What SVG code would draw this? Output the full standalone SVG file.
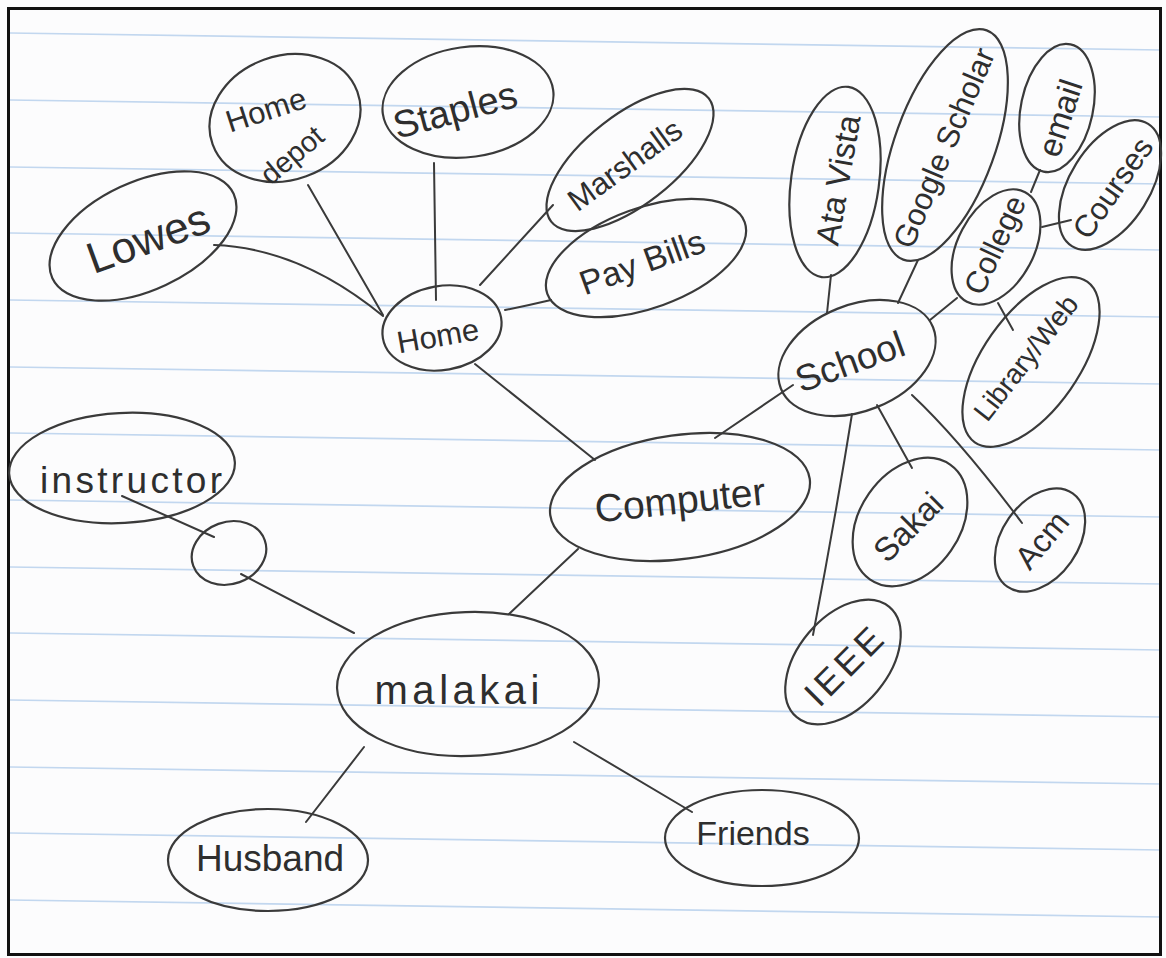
<svg xmlns="http://www.w3.org/2000/svg" width="1166" height="958" viewBox="0 0 1166 958">
<style>
.rule{stroke:#c2d7ef;stroke-width:1.6;fill:none}
.node ellipse{fill:none;stroke:#3a3a3a;stroke-width:2.2}
.conn{fill:none;stroke:#3a3a3a;stroke-width:2;stroke-linecap:round}
text{font-family:"Liberation Sans","DejaVu Sans",sans-serif;fill:#2e2e2e;text-anchor:middle;dominant-baseline:central}
</style>
<rect x="0" y="0" width="1166" height="958" fill="#fcfcfd"/>
<g id="ruled-lines">
<line class="rule" x1="10" y1="33" x2="1162" y2="50"/>
<line class="rule" x1="10" y1="100" x2="1162" y2="117"/>
<line class="rule" x1="10" y1="167" x2="1162" y2="184"/>
<line class="rule" x1="10" y1="233" x2="1162" y2="250"/>
<line class="rule" x1="10" y1="300" x2="1162" y2="317"/>
<line class="rule" x1="10" y1="367" x2="1162" y2="384"/>
<line class="rule" x1="10" y1="433" x2="1162" y2="450"/>
<line class="rule" x1="10" y1="500" x2="1162" y2="517"/>
<line class="rule" x1="10" y1="567" x2="1162" y2="584"/>
<line class="rule" x1="10" y1="633" x2="1162" y2="650"/>
<line class="rule" x1="10" y1="700" x2="1162" y2="717"/>
<line class="rule" x1="10" y1="767" x2="1162" y2="784"/>
<line class="rule" x1="10" y1="833" x2="1162" y2="850"/>
<line class="rule" x1="10" y1="900" x2="1162" y2="917"/>
</g>
<rect x="8.5" y="8.5" width="1152" height="946" fill="none" stroke="#111" stroke-width="3"/>
<g id="connectors">
<path class="conn" d="M214,245 Q300,248 383,316"/>
<path class="conn" d="M308,185 L383,315"/>
<path class="conn" d="M434,163 L436,300"/>
<path class="conn" d="M553,205 L480,285"/>
<path class="conn" d="M505,310 Q530,305 551,300"/>
<path class="conn" d="M475,364 L595,460"/>
<path class="conn" d="M578,549 L509,614"/>
<path class="conn" d="M715,438 L793,385"/>
<path class="conn" d="M831,275 L827,313"/>
<path class="conn" d="M918,260 L898,303"/>
<path class="conn" d="M930,320 L957,298"/>
<path class="conn" d="M1040,170 L1031,192"/>
<path class="conn" d="M1042,227 L1071,220"/>
<path class="conn" d="M998,303 L1013,330"/>
<path class="conn" d="M877,405 L912,468"/>
<path class="conn" d="M912,395 Q960,440 1022,523"/>
<path class="conn" d="M852,414 Q835,520 813,635"/>
<path class="conn" d="M122,496 L214,537"/>
<path class="conn" d="M241,574 L354,633"/>
<path class="conn" d="M364,747 L306,822"/>
<path class="conn" d="M574,742 L692,812"/>
</g>
<g id="node-lowes" class="node"><ellipse cx="143" cy="236" rx="100" ry="54" transform="rotate(-25 143 236)"/><text x="148" y="238" font-size="44" transform="rotate(-20 148 238)">Lowes</text></g>
<g id="node-homedepot" class="node"><ellipse cx="285" cy="118" rx="77" ry="62" transform="rotate(-20 285 118)"/><text x="266" y="110" font-size="31" transform="rotate(-18 266 110)">Home</text><text x="292" y="155" font-size="29" transform="rotate(-40 292 155)">depot</text></g>
<g id="node-staples" class="node"><ellipse cx="468" cy="102" rx="86" ry="55" transform="rotate(-8 468 102)"/><text x="455" y="110" font-size="38" transform="rotate(-15 455 110)">Staples</text></g>
<g id="node-home" class="node"><ellipse cx="442" cy="328" rx="60" ry="42" transform="rotate(-10 442 328)"/><text x="438" y="336" font-size="31" transform="rotate(-10 438 336)">Home</text></g>
<g id="node-marshalls" class="node"><ellipse cx="630" cy="160" rx="100" ry="45" transform="rotate(-38 630 160)"/><text x="625" y="165" font-size="31" transform="rotate(-36 625 165)">Marshalls</text></g>
<g id="node-paybills" class="node"><ellipse cx="646" cy="258" rx="105" ry="50" transform="rotate(-20 646 258)"/><text x="642" y="262" font-size="34" transform="rotate(-20 642 262)">Pay Bills</text></g>
<g id="node-computer" class="node"><ellipse cx="680" cy="497" rx="131" ry="62" transform="rotate(-8 680 497)"/><text x="680" y="500" font-size="39" transform="rotate(-6 680 500)">Computer</text></g>
<g id="node-school" class="node"><ellipse cx="857" cy="358" rx="82" ry="53" transform="rotate(-22 857 358)"/><text x="850" y="362" font-size="37" transform="rotate(-20 850 362)">School</text></g>
<g id="node-altavista" class="node"><ellipse cx="835" cy="182" rx="96" ry="44" transform="rotate(-82 835 182)"/><text x="838" y="180" font-size="33" transform="rotate(-80 838 180)">Ata Vista</text></g>
<g id="node-googlescholar" class="node"><ellipse cx="945" cy="145" rx="122" ry="50" transform="rotate(-70 945 145)"/><text x="944" y="148" font-size="31" transform="rotate(-67 944 148)">Google Scholar</text></g>
<g id="node-email" class="node"><ellipse cx="1057" cy="108" rx="65" ry="36" transform="rotate(-78 1057 108)"/><text x="1060" y="118" font-size="33" transform="rotate(-72 1060 118)">email</text></g>
<g id="node-courses" class="node"><ellipse cx="1110" cy="185" rx="72" ry="40" transform="rotate(-58 1110 185)"/><text x="1113" y="188" font-size="31" transform="rotate(-55 1113 188)">Courses</text></g>
<g id="node-college" class="node"><ellipse cx="996" cy="247" rx="62" ry="38" transform="rotate(-62 996 247)"/><text x="995" y="245" font-size="31" transform="rotate(-65 995 245)">College</text></g>
<g id="node-library" class="node"><ellipse cx="1031" cy="362" rx="98" ry="48" transform="rotate(-55 1031 362)"/><text x="1026" y="358" font-size="28" transform="rotate(-52 1026 358)">Library/Web</text></g>
<g id="node-sakai" class="node"><ellipse cx="910" cy="522" rx="70" ry="50" transform="rotate(-55 910 522)"/><text x="908" y="527" font-size="33" transform="rotate(-45 908 527)">Sakai</text></g>
<g id="node-acm" class="node"><ellipse cx="1040" cy="540" rx="57" ry="38" transform="rotate(-55 1040 540)"/><text x="1042" y="540" font-size="32" transform="rotate(-50 1042 540)">Acm</text></g>
<g id="node-ieee" class="node"><ellipse cx="843" cy="662" rx="72" ry="45" transform="rotate(-50 843 662)"/><text x="845" y="665" font-size="36" letter-spacing="4" transform="rotate(-45 845 665)">IEEE</text></g>
<g id="node-malakai" class="node"><ellipse cx="468" cy="684" rx="131" ry="72" transform="rotate(-2 468 684)"/><text x="457" y="690" font-size="40" textLength="165">malakai</text></g>
<g id="node-instructor" class="node"><ellipse cx="122" cy="468" rx="113" ry="55" transform="rotate(-3 122 468)"/><text x="131" y="480" font-size="37" textLength="182">instructor</text></g>
<g id="node-blank" class="node"><ellipse cx="229" cy="553" rx="38" ry="31" transform="rotate(-20 229 553)"/></g>
<g id="node-husband" class="node"><ellipse cx="268" cy="860" rx="100" ry="51"/><text x="270" y="858" font-size="37">Husband</text></g>
<g id="node-friends" class="node"><ellipse cx="762" cy="838" rx="97" ry="48"/><text x="753" y="833" font-size="34">Friends</text></g>
</svg>
